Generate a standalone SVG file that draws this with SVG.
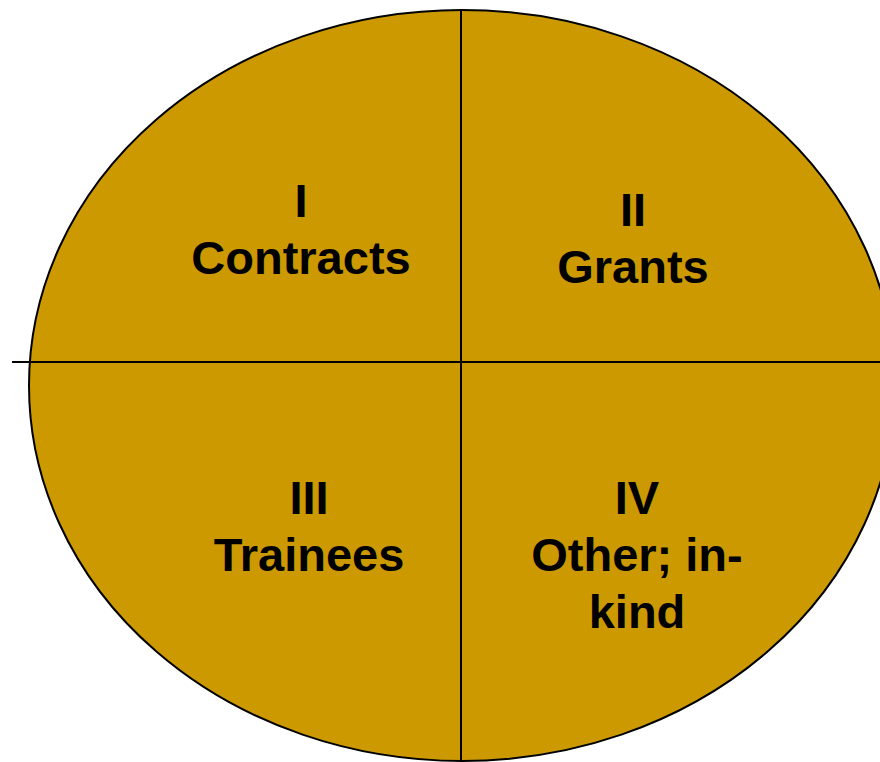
<svg xmlns="http://www.w3.org/2000/svg" width="880" height="762" viewBox="0 0 880 762">
<style>
.lbl{font-family:"Liberation Sans",Arial,sans-serif;font-weight:bold;font-size:47px;fill:#000;text-anchor:middle}
.ln{stroke:#000;stroke-width:2;fill:none}
</style>
<rect width="880" height="762" fill="#fff"/>
<g id="circle">
<ellipse cx="462" cy="385.5" rx="433" ry="375.5" fill="#CC9900" stroke="#000" stroke-width="2"/>
</g>
<g id="connectors">
<line class="ln" x1="461" y1="10" x2="461" y2="762"/>
<line class="ln" x1="12" y1="362" x2="880" y2="362"/>
</g>
<g id="q1"><text class="lbl" x="301" y="217">I</text><text class="lbl" x="301" y="274">Contracts</text></g>
<g id="q2"><text class="lbl" x="633" y="226">II</text><text class="lbl" x="633" y="283">Grants</text></g>
<g id="q3"><text class="lbl" x="309" y="514">III</text><text class="lbl" x="309" y="571">Trainees</text></g>
<g id="q4"><text class="lbl" x="637" y="514">IV</text><text class="lbl" x="637" y="571">Other; in-</text><text class="lbl" x="637" y="628">kind</text></g>
</svg>
